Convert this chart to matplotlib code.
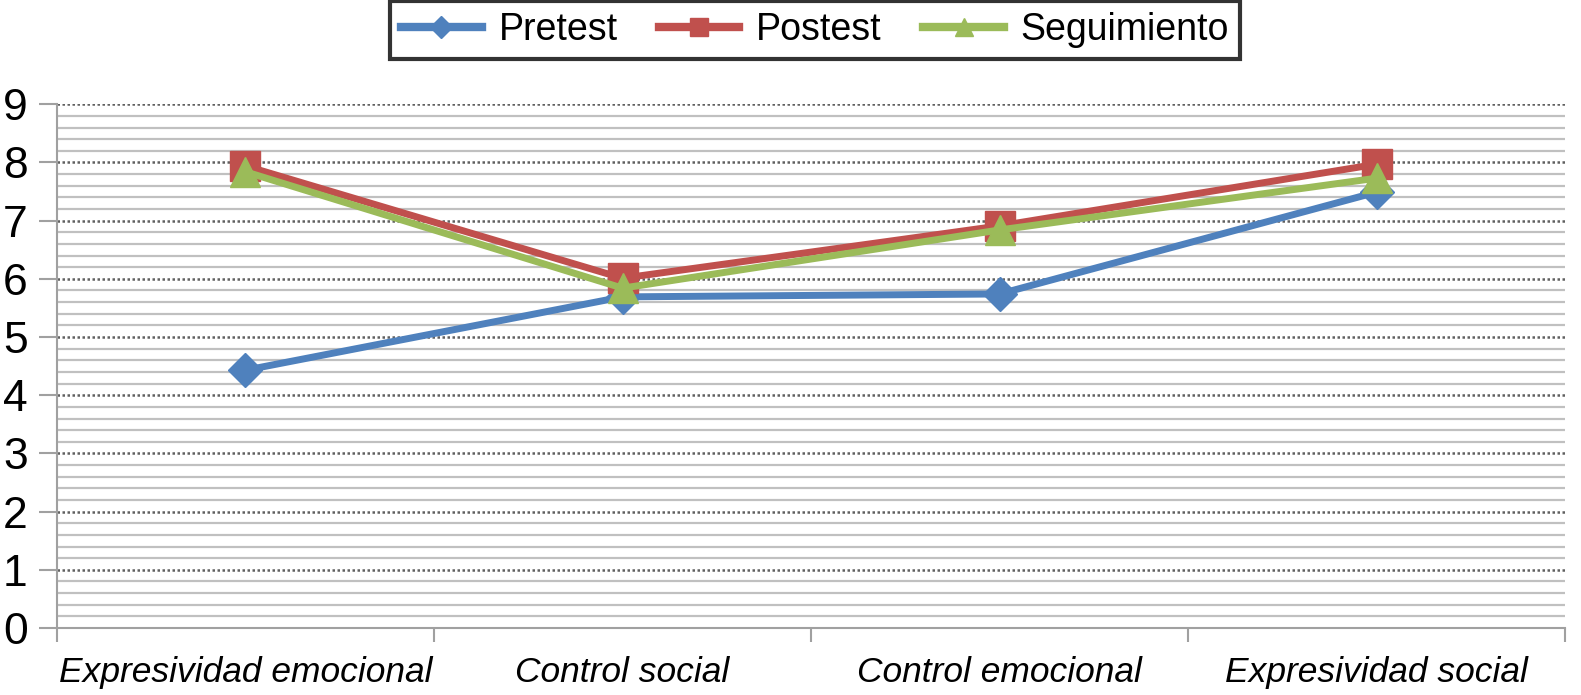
import matplotlib
matplotlib.use("Agg")
import matplotlib.pyplot as plt
from matplotlib.ticker import MultipleLocator, FixedLocator

plt.rcParams['font.family'] = ['Liberation Sans', 'DejaVu Sans']

categories = ["Expresividad emocional", "Control social", "Control emocional", "Expresividad social"]
pretest = [4.43, 5.69, 5.74, 7.49]
postest = [7.94, 6.01, 6.91, 7.97]
seguimiento = [7.84, 5.84, 6.84, 7.73]
series_names = ["Pretest", "Postest", "Seguimiento"]

fig = plt.figure(figsize=(15.81, 6.95), dpi=100)
ax = fig.add_axes([0.036, 0.0964, 0.954, 0.7536])

x = list(range(len(categories)))
ax.plot(x, pretest, color='#4F81BD', lw=5, marker='D', ms=17, label=series_names[0], zorder=3)
ax.plot(x, postest, color='#C0504D', lw=5, marker='s', ms=21, label=series_names[1], zorder=4)
ax.plot(x, seguimiento, color='#9BBB59', lw=5, marker='^', ms=21, label=series_names[2], zorder=5)

ax.set_xlim(-0.5, len(categories) - 0.5)
ax.set_ylim(0, 9)
ax.yaxis.set_major_locator(MultipleLocator(1))
ax.yaxis.set_minor_locator(MultipleLocator(0.2))
ax.grid(which='minor', axis='y', color='#C0C0C0', lw=1.6, ls='-', zorder=0)
ax.grid(which='major', axis='y', color='#606060', lw=1.8, ls=(0, (1, 1)), zorder=1)

ax.set_xticks(x)
ax.set_xticklabels(categories, fontsize=25.5, style='italic')
ax.xaxis.set_minor_locator(FixedLocator([i - 0.5 for i in range(len(categories) + 1)]))
ax.tick_params(axis='x', which='major', length=0, pad=20)
ax.tick_params(axis='x', which='minor', length=10, width=1.5, color='#A0A0A0', direction='out')
ax.tick_params(axis='y', which='major', labelsize=32, length=13, width=1.5, color='#A0A0A0', pad=8)
ax.tick_params(axis='y', which='minor', length=0)

for s in ['top', 'right']:
    ax.spines[s].set_visible(False)
for s in ['left', 'bottom']:
    ax.spines[s].set_color('#A0A0A0')
    ax.spines[s].set_linewidth(1.5)

leg = fig.legend(loc='upper center', bbox_to_anchor=(0.5155, 0.999), ncol=3, fontsize=27,
                 frameon=True, fancybox=False, edgecolor='black', handlelength=2.15,
                 markerscale=0.65, borderpad=0.3, columnspacing=1.1, handletextpad=0.45,
                 borderaxespad=0)
leg.get_frame().set_linewidth(3)
for line in leg.get_lines():
    line.set_linewidth(6)

fig.savefig("out.png", dpi=100)
